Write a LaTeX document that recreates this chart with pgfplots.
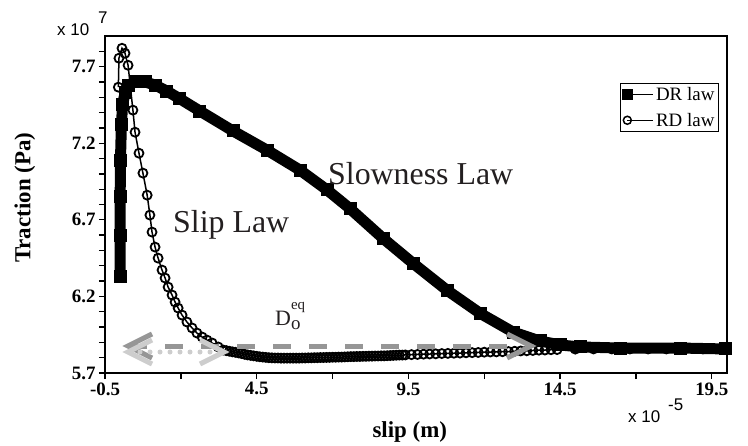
\documentclass[border=0pt]{standalone}
\usepackage{fontspec}
\setmainfont{Liberation Serif}
\setsansfont{Liberation Sans}
\usepackage{pgfplots}
\pgfplotsset{compat=1.18}
\definecolor{darkg}{RGB}{150,150,150}
\definecolor{lightg}{RGB}{205,205,205}
\definecolor{txt}{RGB}{35,31,32}

\pgfplotstableread{
x y
0.00 6.33
0.00 6.60
0.00 6.85
0.01 7.09
0.04 7.32
0.08 7.45
0.16 7.53
0.29 7.58
0.49 7.60
0.82 7.60
1.15 7.58
1.54 7.54
1.97 7.49
2.63 7.41
3.72 7.28
4.84 7.155
5.93 7.024
6.82 6.895
7.58 6.772
8.67 6.578
9.66 6.415
10.78 6.239
11.86 6.090
12.95 5.967
13.84 5.909
14.50 5.883
15.16 5.870
16.48 5.863
18.46 5.863
19.94 5.857
}\drlaw

\pgfplotstableread{
x y
-0.06 7.566
-0.04 7.755
0.06 7.820
0.16 7.787
0.26 7.709
0.42 7.416
0.49 7.272
0.62 7.135
0.75 7.005
0.89 6.861
0.98 6.731
1.05 6.620
1.15 6.522
1.25 6.450
1.38 6.372
1.48 6.320
1.58 6.261
1.71 6.209
1.81 6.163
1.91 6.124
2.04 6.078
2.20 6.033
2.37 5.994
2.53 5.961
2.70 5.935
2.86 5.915
3.03 5.896
3.23 5.870
3.40 5.850
3.50 5.846
3.60 5.842
3.70 5.838
3.80 5.835
3.90 5.831
4.00 5.827
4.10 5.822
4.20 5.818
4.30 5.815
4.40 5.812
4.50 5.809
4.60 5.806
4.70 5.804
4.80 5.802
4.90 5.800
5.00 5.799
5.10 5.798
5.20 5.798
5.30 5.797
5.40 5.797
5.50 5.797
5.60 5.797
5.70 5.797
5.80 5.797
5.90 5.797
6.00 5.798
6.10 5.798
6.20 5.799
6.30 5.799
6.40 5.800
6.50 5.800
6.60 5.801
6.70 5.801
6.80 5.802
6.90 5.802
7.00 5.803
7.10 5.803
7.20 5.804
7.30 5.804
7.40 5.805
7.50 5.806
7.60 5.807
7.70 5.807
7.80 5.808
7.90 5.808
8.00 5.809
8.10 5.809
8.20 5.810
8.30 5.810
8.40 5.811
8.50 5.811
8.60 5.812
8.70 5.812
8.80 5.813
8.90 5.814
9.00 5.815
9.10 5.816
9.20 5.817
9.30 5.817
9.40 5.818
9.60 5.820
9.80 5.821
10.00 5.823
10.20 5.824
10.40 5.825
10.60 5.827
10.80 5.828
11.00 5.829
11.20 5.830
11.40 5.832
11.60 5.833
11.80 5.834
12.00 5.836
12.20 5.837
12.40 5.838
12.60 5.839
12.80 5.840
13.00 5.842
13.20 5.844
13.40 5.845
13.60 5.847
13.80 5.849
14.00 5.850
14.20 5.852
14.40 5.853
15.00 5.856
15.60 5.857
16.20 5.857
16.80 5.857
17.40 5.857
18.00 5.857
18.60 5.857
19.20 5.857
19.94 5.857
}\rdlaw

\begin{document}
\begin{tikzpicture}
\begin{axis}[
  name=main,
  scale only axis,
  width=622bp, height=337bp,
  xmin=-0.5, xmax=20, ymin=5.7, ymax=7.9,
  clip=false,
  axis line style={line width=1.3bp},
  xtick={-0.5,4.5,9.5,14.5,19.5},
  xticklabels={-0.5,4.5,9.5,14.5,19.5},
  minor xtick={2,7,12,17},
  ytick={5.7,6.2,6.7,7.2,7.7},
  yticklabels={5.7,6.2,6.7,7.2,7.7},
  minor ytick={5.8,5.9,6.0,6.1,6.3,6.4,6.5,6.6,6.8,6.9,7.0,7.1,7.3,7.4,7.5,7.6,7.8},
  tick align=outside,
  xtick pos=bottom, ytick pos=left,
  major tick length=6bp, minor tick length=6bp,
  every tick/.style={black, line width=1.3bp},
  ticklabel style={font=\fontsize{19}{19}\selectfont\bfseries},
  xlabel={slip (m)},
  ylabel={Traction (Pa)},
  label style={font=\fontsize{23}{23}\selectfont\bfseries},
  xlabel style={at={(axis description cs:0.49,-0.19)}, anchor=base},
  ylabel style={at={(axis description cs:-0.129,0.52)}, anchor=center},
  legend style={at={(rel axis cs:0.987,0.861)}, anchor=north east, draw=black, line width=1bp,
    font=\fontsize{19}{19}\selectfont, row sep=7bp, inner sep=2bp},
  legend cell align=left,
  legend image code/.code={\draw[#1, mark repeat=3, mark phase=1] plot coordinates {(0bp,0bp) (13bp,0bp) (26bp,0bp)};},
]
\addplot[black, line width=11bp, line join=round, mark=square*, mark size=6bp,
  mark options={line width=0bp, solid}, forget plot] table {\drlaw};
\addplot[black, line width=1.5bp, mark=o, mark size=4.5bp,
  mark options={line width=1.8bp}, forget plot] table {\rdlaw};
\addlegendimage{black, line width=1.5bp, mark=square*, mark size=5bp}
\addlegendentry{DR law}
\addlegendimage{black, line width=1.5bp, mark=o, mark size=4bp}
\addlegendentry{RD law}
\end{axis}
\begin{scope}[shift={([xshift=-105bp,yshift=373bp]main.south west)}, x=1bp, y=-1bp]
  \path (0,0) rectangle (748,442);
  % dashed dark arrow
  \draw[darkg, line width=5bp, dash pattern=on 18bp off 18bp] (129,346) -- (522,346);
  \draw[darkg, line width=5bp, line join=miter] (152,334) -- (128,346) -- (152,358);
  \draw[darkg, line width=5bp, line join=miter] (507,334) -- (531,346) -- (507,358);
  % dotted light arrow
  \draw[lightg, line width=5bp, line cap=round, dash pattern=on 0bp off 10bp] (140,352) -- (215,352);
  \draw[lightg, line width=5bp, line join=miter] (152,340) -- (128,352) -- (152,364);
  \draw[lightg, line width=5bp, line join=miter] (200,340) -- (224,352) -- (200,364);
  % texts
  \node[anchor=base west, inner sep=0, text=txt, font=\fontsize{32}{32}\selectfont] at (328,185) {Slowness Law};
  \node[anchor=base west, inner sep=0, text=txt, font=\fontsize{32}{32}\selectfont] at (173,232) {Slip Law};
  \node[anchor=base west, inner sep=0, text=txt, font=\fontsize{22}{22}\selectfont] at (275,325)
    {D\rlap{\raisebox{-4bp}{\fontsize{19}{19}\selectfont o}}\raisebox{16bp}{\fontsize{15}{15}\selectfont eq}};
  \node[anchor=base west, inner sep=0, font=\sffamily\fontsize{17}{17}\selectfont] at (57,36) {x 10};
  \node[anchor=base west, inner sep=0, font=\sffamily\fontsize{17}{17}\selectfont] at (98,24) {7};
  \node[anchor=base west, inner sep=0, font=\sffamily\fontsize{17}{17}\selectfont] at (628,422) {x 10};
  \node[anchor=base west, inner sep=0, font=\sffamily\fontsize{17}{17}\selectfont] at (668,410) {-5};
\end{scope}
\end{tikzpicture}
\end{document}
